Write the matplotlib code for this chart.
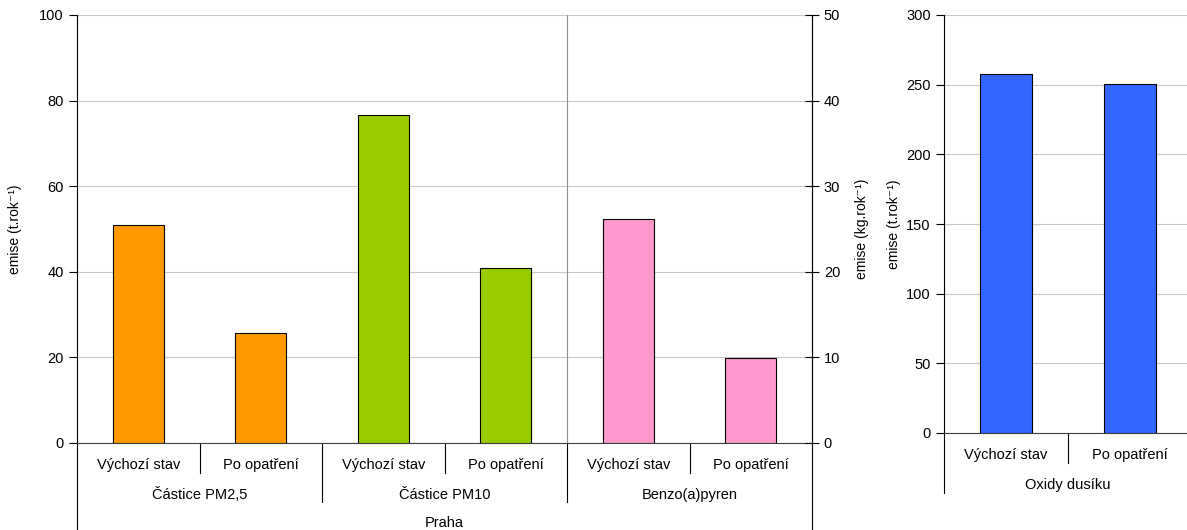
import numpy as np
import matplotlib
matplotlib.use("Agg")
import matplotlib.pyplot as plt

plt.rcParams['font.family'] = ['Liberation Sans', 'DejaVu Sans']

# data
stav = ["Výchozí stav", "Po opatření"]
skupiny = ["Částice PM2,5", "Částice PM10", "Benzo(a)pyren"]
pm25 = [51.0, 25.7]
pm10 = [76.7, 40.9]
bap = [26.2, 9.9]          # kg/rok, prava osa
nox = [257.7, 250.5]
barvy = ["#FF9900", "#99CC00", "#FF99CC"]
barva_nox = "#3366FF"

fig = plt.figure(figsize=(11.87, 5.30), dpi=100)
W, H = 1187, 530

ax = fig.add_axes([77 / W, (H - 443) / H, 735 / W, 428 / H])
ax2 = ax.twinx()
bx = fig.add_axes([944 / W, (H - 433) / H, 248 / W, 418 / H])

grid_c = "#C8C8C8"
fs = 10.5
w = 0.42

# levy graf
ax.bar([0, 1], pm25, width=w, color=barvy[0], edgecolor="black", linewidth=0.8, zorder=3)
ax.bar([2, 3], pm10, width=w, color=barvy[1], edgecolor="black", linewidth=0.8, zorder=3)
ax2.bar([4, 5], bap, width=w, color=barvy[2], edgecolor="black", linewidth=0.8, zorder=3)
ax.set_xlim(-0.5, 5.5)
ax.set_ylim(0, 100)
ax2.set_ylim(0, 50)
ax.set_yticks(np.arange(0, 101, 20))
ax2.set_yticks(np.arange(0, 51, 10))
ax.yaxis.grid(True, color=grid_c, linewidth=0.8)
ax.set_axisbelow(True)
ax.set_xticks([])
for a in (ax, ax2):
    a.spines['top'].set_visible(False)
    a.tick_params(axis='y', labelsize=fs, length=6, width=0.8)
ax.spines['bottom'].set_color("#404040")
ax2.spines['left'].set_visible(False)
ax2.spines['bottom'].set_visible(False)
ax2.tick_params(axis='y', direction='inout', length=10)
ax.axvline(3.5, color="#909090", linewidth=0.8, zorder=1)

ax.set_ylabel("emise (t.rok⁻¹)", fontsize=10)
ax.yaxis.set_label_coords(-0.075, 0.5)
ax2.set_ylabel("emise (kg.rok⁻¹)", fontsize=10)
ax2.yaxis.set_label_coords(1.058, 0.5)

tr = ax.get_xaxis_transform()
labels = stav * 3
for i, t in enumerate(labels):
    ax.text(i, -0.051, t, transform=tr, ha='center', va='center', fontsize=fs)
for i in [0.5, 2.5, 4.5]:
    ax.plot([i, i], [0, -0.070], transform=tr, color="black", lw=0.8, clip_on=False)
for j, t in enumerate(skupiny):
    ax.text(2 * j + 0.5, -0.121, t, transform=tr, ha='center', va='center', fontsize=fs)
for i in [1.5, 3.5]:
    ax.plot([i, i], [0, -0.138], transform=tr, color="black", lw=0.8, clip_on=False)
ax.text(2.5, -0.187, "Praha", transform=tr, ha='center', va='center', fontsize=fs)
for i in [-0.5, 5.5]:
    ax.plot([i, i], [0, -0.22], transform=tr, color="black", lw=0.8, clip_on=False)

# pravy graf
bx.bar([0, 1], nox, width=w, color=barva_nox, edgecolor="black", linewidth=0.8, zorder=3)
bx.set_xlim(-0.5, 1.5)
bx.set_ylim(0, 300)
bx.set_yticks(np.arange(0, 301, 50))
bx.yaxis.grid(True, color=grid_c, linewidth=0.8)
bx.set_axisbelow(True)
bx.set_xticks([])
bx.spines['top'].set_visible(False)
bx.spines['right'].set_visible(False)
bx.spines['bottom'].set_color("#404040")
bx.tick_params(axis='y', labelsize=fs, length=6, width=0.8)
bx.set_ylabel("emise (t.rok⁻¹)", fontsize=10)
bx.yaxis.set_label_coords(-0.173, 0.5)
tb = bx.get_xaxis_transform()
for i, t in enumerate(stav):
    bx.text(i, -0.052, t, transform=tb, ha='center', va='center', fontsize=fs)
bx.plot([0.5, 0.5], [0, -0.072], transform=tb, color="black", lw=0.8, clip_on=False)
bx.text(0.5, -0.124, "Oxidy dusíku", transform=tb, ha='center', va='center', fontsize=fs)
bx.plot([-0.5, -0.5], [0, -0.144], transform=tb, color="black", lw=0.8, clip_on=False)

fig.savefig("out.png", dpi=100)
